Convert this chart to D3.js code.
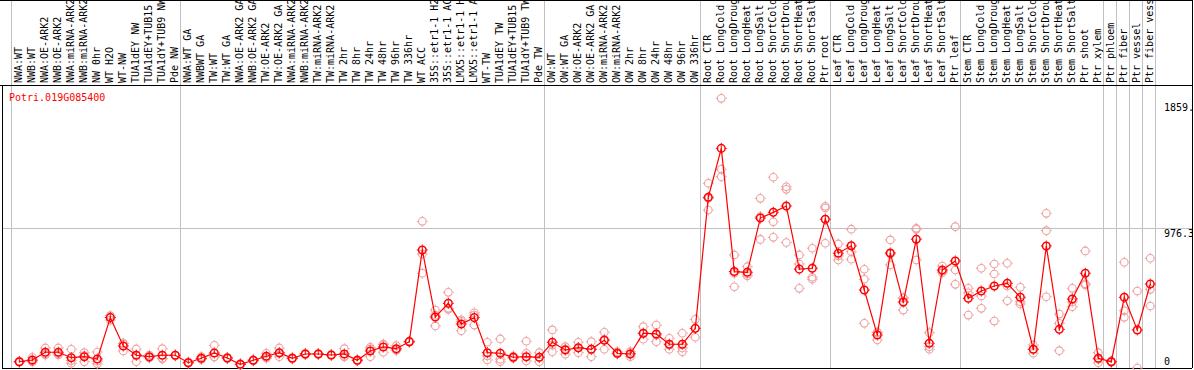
<!DOCTYPE html>
<html>
<head>
<meta charset="utf-8">
<script src="https://cdn.jsdelivr.net/npm/d3@7"></script>
<style>
  body { margin: 0; background: #fff; }
  svg { display: block; }
  text { font-family: "DejaVu Sans Mono", monospace; font-size: 10px; }
</style>
</head>
<body>
<script>
// gene id shown in the corner
var geneId = 'Potri.019G085400';

// sample names, left to right
var samples = [
  'NWA:WT', 'NWB:WT', 'NWA:OE-ARK2', 'NWB:OE-ARK2', 'NWA:miRNA-ARK2', 'NWB:miRNA-ARK2',
  'NW 0hr', 'WT H2O', 'WT-NW', 'TUA1dEY NW', 'TUA1dEY+TUB15 NW', 'TUA1dY+TUB9 NW', 'Pde NW',
  'NWA:WT GA', 'NWBWT GA', 'TW:WT', 'TW:WT GA', 'NWA:OE-ARK2 GA', 'NWB:OE-ARK2 GA',
  'TW:OE-ARK2', 'TW:OE-ARK2 GA', 'NWA:miRNA-ARK2', 'NWB:miRNA-ARK2', 'TW:miRNA-ARK2',
  'TW:miRNA-ARK2', 'TW 2hr', 'TW 8hr', 'TW 24hr', 'TW 48hr', 'TW 96hr', 'TW 336hr', 'WT ACC',
  '35S::etr1-1 H2O', '35S::etr1-1 ACC', 'LMX5::etr1-1 H2O', 'LMX5::etr1-1 ACC', 'WT-TW',
  'TUA1dEY TW', 'TUA1dEY+TUB15 TW', 'TUA1dY+TUB9 TW', 'Pde TW',
  'OW:WT', 'OW:WT GA', 'OW:OE-ARK2', 'OW:OE-ARK2 GA', 'OW:miRNA-ARK2', 'OW:miRNA-ARK2',
  'OW 2hr', 'OW 8hr', 'OW 24hr', 'OW 48hr', 'OW 96hr', 'OW 336hr',
  'Root CTR', 'Root LongCold', 'Root LongDrought', 'Root LongHeat', 'Root LongSalt',
  'Root ShortCold', 'Root ShortDrought', 'Root ShortHeat', 'Root ShortSalt', 'Ptr root',
  'Leaf CTR', 'Leaf LongCold', 'Leaf LongDrought', 'Leaf LongHeat', 'Leaf LongSalt',
  'Leaf ShortCold', 'Leaf ShortDrought', 'Leaf ShortHeat', 'Leaf ShortSalt', 'Ptr leaf',
  'Stem CTR', 'Stem LongCold', 'Stem LongDrought', 'Stem LongHeat', 'Stem LongSalt',
  'Stem ShortCold', 'Stem ShortDrought', 'Stem ShortHeat', 'Stem ShortSalt', 'Ptr shoot',
  'Ptr xylem', 'Ptr phloem', 'Ptr fiber', 'Ptr vessel', 'Ptr fiber vessel'
];

// how many samples sit between two grey separators
var groupSizes = [13, 28, 12, 10, 10, 11, 1, 1, 1, 1];

// mean expression per sample
var means = [
  44, 56, 110, 110, 72, 79, 63, 352, 154, 89, 79, 89, 89,
  37, 68, 105, 70, 26, 54, 82, 107, 68, 98, 98, 91, 98, 54, 119, 147, 135, 184, 825,
  356, 452, 308, 352, 107, 103, 75, 79, 75,
  180, 126, 142, 131, 194, 103, 98, 243, 238, 166, 166, 277,
  1193, 1535, 674, 669, 1048, 1088, 1132, 691, 697, 1040,
  802, 854, 545, 231, 804, 461, 900, 173, 685, 748,
  487, 538, 573, 592, 494, 131, 853, 270, 482, 662, 68,
  44, 494, 266, 587
];

// replicate values per sample
var replicates = [
  [40, 44, 48], [75, 42, 50], [140, 91, 99], [140, 91, 99], [131, 52, 33], [107, 44, 86],
  [112, 48, 29], [366, 335, 355], [173, 119, 170], [133, 44, 90], [91, 75, 71], [135, 68, 64],
  [91, 85, 91],
  [37, 33, 41], [79, 60, 65], [159, 79, 77], [70, 66, 74], [26, 22, 30], [54, 50, 58],
  [103, 75, 68], [140, 79, 102], [68, 64, 72], [98, 94, 102], [98, 95, 101], [91, 88, 94],
  [135, 80, 79], [54, 50, 58], [145, 79, 133], [110, 165, 166], [156, 125, 124], [184, 180, 188],
  [1025, 797, 662], [405, 294, 369], [529, 410, 417], [326, 261, 337], [386, 300, 370],
  [180, 56, 85], [203, 44, 62], [84, 70, 71], [187, 103, 49], [107, 44, 75],
  [266, 114, 160], [149, 96, 133], [180, 107, 140], [184, 79, 131], [250, 131, 200],
  [114, 98, 98], [114, 79, 100], [289, 201, 240], [300, 184, 230], [208, 131, 160],
  [243, 114, 140], [340, 215, 277],
  [1291, 1104, 1185], [1885, 1389, 1337], [790, 568, 662], [708, 643, 656], [1186, 899, 1059],
  [1333, 1022, 913], [1267, 1249, 877], [790, 557, 727], [837, 634, 620], [1130, 872, 1118],
  [867, 755, 784], [970, 813, 760], [690, 620, 312], [196, 250, 247], [895, 720, 797],
  [487, 405, 491], [976, 755, 969], [247, 149, 131], [713, 666, 676], [988, 685, 585],
  [557, 526, 370], [697, 503, 417], [727, 657, 328], [732, 573, 470], [564, 463, 447],
  [161, 103, 129], [1081, 960, 498], [377, 121, 312], [557, 428, 461], [818, 580, 588],
  [107, 37, 61],
  [49, 40, 43], [739, 400, 354], [538, 0], [767, 550, 433]
];

// labels on the right hand axis
var yTicks = [0, 976.3, 1859.5];
var yTickLabels = ['0', '976.3', '1859.'];

var width = 1194,
    height = 370;

var plotTop = 85, plotBottom = 368,
    plotLeft = 2, plotRight = 1192;

var svg = d3.select('body')
  .append('svg')
  .attr('width', width)
  .attr('height', height);

// one band per sample (by index, some names repeat)
var x = d3.scaleBand()
  .domain(d3.range(samples.length))
  .range([11, 11 + 13 * samples.length]);

// markers sit a bit right of the band middle
var px = function(i) { return x(i) + 8.3; };

var y = d3.scaleLinear()
  .domain([0, 1978])
  .range([plotBottom, plotTop]);

// grey separators between sample groups
var edges = [0];
groupSizes.forEach(function(n) { edges.push(edges[edges.length - 1] + n); });

var edgeX = function(k) { return Math.round(k < samples.length ? x(k) : x.range()[1]) + 0.5; };

svg.append('g')
  .selectAll('line')
  .data(edges)
  .enter().append('line')
  .attr('x1', edgeX)
  .attr('x2', edgeX)
  .attr('y1', 0)
  .attr('y2', plotBottom)
  .attr('stroke', '#c0c0c0');

// middle horizontal grid line
svg.append('line')
  .attr('x1', plotLeft).attr('x2', plotRight)
  .attr('y1', Math.round(y(yTicks[1])) + 0.5).attr('y2', Math.round(y(yTicks[1])) + 0.5)
  .attr('stroke', '#c0c0c0');

// frame
var frame = svg.append('g')
  .attr('stroke', '#000')
  .attr('shape-rendering', 'crispEdges');
frame.append('line').attr('x1', 0).attr('x2', plotRight).attr('y1', plotTop).attr('y2', plotTop);
frame.append('line').attr('x1', plotLeft).attr('x2', plotLeft).attr('y1', plotTop).attr('y2', plotBottom);
frame.append('line').attr('x1', plotLeft).attr('x2', plotRight).attr('y1', plotBottom).attr('y2', plotBottom);
frame.append('line').attr('x1', plotRight).attr('x2', plotRight).attr('y1', 0).attr('y2', plotBottom);
frame.append('line').attr('x1', 0).attr('x2', plotRight).attr('y1', 0.5).attr('y2', 0.5);

// sample names, written upwards
svg.append('g')
  .selectAll('text')
  .data(samples)
  .enter().append('text')
  .attr('transform', function(d, i) { return 'translate(' + (px(i) + 3) + ',' + (plotTop - 2) + ') rotate(-90)'; })
  .attr('fill', '#000')
  .text(function(d) { return d; });

// right axis labels
var clip = svg.append('clipPath').attr('id', 'axisclip');
clip.append('rect').attr('x', 1155).attr('y', plotTop).attr('width', plotRight - 1155).attr('height', plotBottom - plotTop);

svg.append('g')
  .attr('clip-path', 'url(#axisclip)')
  .selectAll('text')
  .data(yTicks)
  .enter().append('text')
  .attr('x', 1164)
  .attr('y', function(d) { return d === 0 ? y(d) - 3 : y(d) + 9; })
  .attr('fill', '#000')
  .text(function(d, i) { return yTickLabels[i]; });

svg.append('text')
  .attr('x', 9)
  .attr('y', 101)
  .attr('fill', '#ff0000')
  .text(geneId);

// small circle with four short stubs, like the original markers
function marker(g, cx, cy, color, sw) {
  g.append('circle')
    .attr('cx', cx).attr('cy', cy).attr('r', 3.8)
    .attr('fill', 'none')
    .attr('stroke', color)
    .attr('stroke-width', sw);
  g.append('path')
    .attr('d', 'M' + cx + ',' + (cy - 5.5) + 'v1.2M' + cx + ',' + (cy + 4.3) + 'v1.2' +
               'M' + (cx - 5.5) + ',' + cy + 'h1.2M' + (cx + 4.3) + ',' + cy + 'h1.2')
    .attr('stroke', color)
    .attr('stroke-width', 1);
}

// replicates
var reps = svg.append('g');
replicates.forEach(function(r, i) {
  r.forEach(function(v) { marker(reps, px(i), y(v), '#eea0a0', 1.1); });
});

// mean line
var line = d3.line()
  .x(function(d, i) { return px(i); })
  .y(function(d) { return y(d); });

svg.append('path')
  .datum(means)
  .attr('d', line)
  .attr('fill', 'none')
  .attr('stroke', '#ff0000')
  .attr('stroke-width', 1.2);

var meanG = svg.append('g');
means.forEach(function(v, i) {
  marker(meanG, px(i), y(v), '#ff0000', 1.5);
  meanG.append('line')
    .attr('x1', px(i)).attr('x2', px(i))
    .attr('y1', y(v) - 3).attr('y2', y(v) + 1)
    .attr('stroke', '#ff0000');
});
</script>
</body>
</html>
